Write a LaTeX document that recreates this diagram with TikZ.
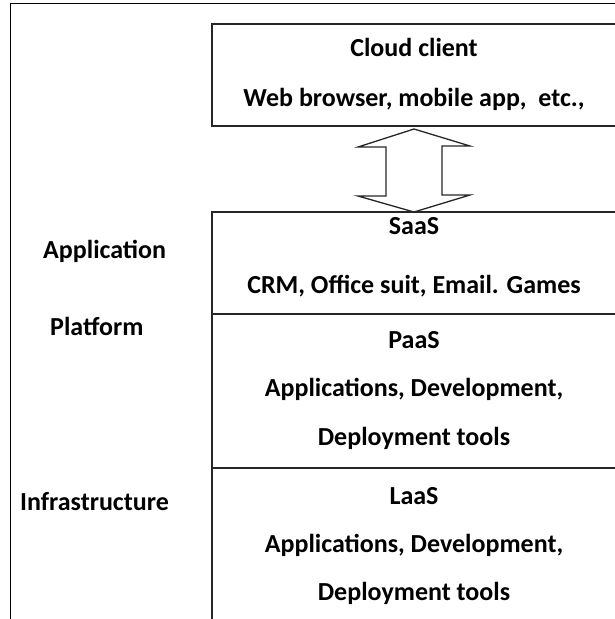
\documentclass[tikz,border=0pt]{standalone}
\usepackage{fontspec}
\setmainfont{Carlito}
\usetikzlibrary{positioning,calc}
\tikzset{
    font=\bfseries\fontsize{26}{30}\selectfont,
    frame line/.style={draw=black,line width=1pt},
    layer box/.style={draw=black!85,line width=1.3pt,minimum width=404pt,inner sep=0pt,outer sep=0pt},
    box text/.style={inner sep=0pt},
    side label/.style={anchor=west,inner sep=0pt},
    hollow arrow/.style={draw=black!85,line width=1.3pt,line join=miter}
}
\begin{document}
\begin{tikzpicture}[x=1pt,y=-1pt]
    \useasboundingbox (0,0) rectangle (615,619);
    % outer frame
    \draw[frame line] (10,3) rectangle (630,640);

    % client box
    \node[layer box, anchor=north west, minimum height=102pt] (client) at (212,24) {};
    \node[box text] (clientname) at (414,47) {Cloud client};
    \node[box text] (clientex) at (414,99) {Web browser, mobile app,\ \ etc.,};

    % service layers
    \node[layer box, anchor=north west, minimum height=102pt] (saas) at (212,212) {};
    \node[layer box, minimum height=154pt, below right=0pt of saas.south west] (paas) {};
    \node[layer box, minimum height=160pt, below right=0pt of paas.south west] (laas) {};

    \node[box text] (saasname) at (414,226) {SaaS};
    \node[box text] (saasex) at (414,286) {CRM, Office suit, Email. Games};
    \node[box text] (paasname) at (414,340) {PaaS};
    \node[box text] (paasex) at (414,389) {Applications, Development,};
    \node[box text] (paastools) at (414,438) {Deployment tools};
    \node[box text] (laasname) at (414,496) {LaaS};
    \node[box text] (laasex) at (414,545) {Applications, Development,};
    \node[box text] (laastools) at (414,593) {Deployment tools};

    % layer names on the left
    \node[side label] (app) at (43,251) {Application};
    \node[side label] (plat) at (50,326) {Platform};
    \node[side label] (infra) at (20,502) {Infrastructure};

    % two way arrow between client and SaaS
    \draw[hollow arrow] ($(client.south)+(0,3)$) -- ++(-56,18) -- ++(28,0) -- ++(0,49)
        -- ++(-28,0) -- (saas.north) -- ++(56,-17) -- ++(-28,0) -- ++(0,-49)
        -- ++(28,0) -- cycle;
\end{tikzpicture}
\end{document}
